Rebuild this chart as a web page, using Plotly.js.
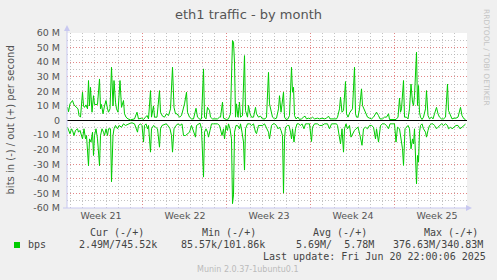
<!DOCTYPE html>
<html><head><meta charset="utf-8">
<script src="https://cdn.plot.ly/plotly-3.0.1.min.js"></script>
<style>html,body{margin:0;padding:0;background:#f0f0f0;overflow:hidden}#chart{width:497px;height:280px}</style>
</head><body><div id="chart"></div>
<script>
// Hours since graph start (33-day window ending Fri Jun 20 2025 22:00)
const outHours = [1,3,6,11,14,18,22,24,27,31,33,35,38,41,43,45,47,50,53,55,57,61,65,67,69,72,75,78,81,83,86,89,92,94,97,99,102,106,109,113,115,118,122,127,130,135,140,143,149,153,157,160,163,167,169,173,175,180,185,187,191,195,199,203,207,211,214,217,220,225,229,233,235,239,241,245,249,253,258,261,266,269,273,275,278,281,285,287,291,296,301,305,307,311,313,316,319,323,327,331,333,335,337,339,342,345,347,351,355,357,361,363,366,369,373,377,379,383,387,391,396,399,403,405,408,411,415,419,423,425,428,431,433,435,438,442,445,449,451,453,455,458,462,465,469,473,476,479,483,487,491,495,501,505,510,515,519,523,526,532,539,541,545,547,550,553,557,559,562,566,569,571,575,577,579,582,585,589,591,595,598,601,605,609,613,617,619,623,626,631,635,639,643,645,649,653,658,662,665,667,669,673,675,679,682,685,688,691,693,695,699,701,703,705,707,710,713,717,719,722,725,729,732,735,739,742,745,749,753,757,761,763,767,770,774,778,782,787,790,794,797];
// outbound traffic, Mbit/s
const outMbps = [9.1,6,11.4,13.7,10.7,9,8,3.4,2.3,19.4,10,9,10.7,8,27.4,10,22.8,5.7,17,11,11,11,28.5,8,11,4.6,10,13.7,8,5.7,8,36.5,10,27.4,12.6,8,5.7,27.4,9,13.7,4.6,2.3,1.1,0.5,0.7,1.1,5.7,1.1,1.6,0.7,2.3,3.4,1.1,20.5,2.3,10,2.3,2.3,20.5,5.7,3,2.3,4.6,3.4,8,36.5,9,4.6,4.6,2.3,3.4,8,11.4,19.4,5.7,2.3,1.1,1.1,8.4,2.3,0.8,1.1,35.4,2.3,1.1,9,6.8,2.3,1.1,1.1,1.1,2.3,2.3,12.6,1.6,1.1,0.7,1.1,4.6,54.8,53.7,40,2.3,11.4,2.3,12.6,2.3,3.4,44.5,6.8,2.3,10.3,4.6,2.3,2.3,9,4.6,2.3,3,1.1,1.1,2.3,33,11.4,6.8,2.3,1.1,1.6,8,17,5.7,14.8,19.4,2.3,0.7,1.1,3.4,36.5,19.4,22.8,3.4,1.1,2.3,0.7,1.1,2.3,3,1.1,1.6,1.1,2.3,1.1,1.6,1.1,1.6,1.1,1.6,3,1.1,1.1,1.1,2.3,8,16,5.7,6.8,26.7,4.6,2.3,5.7,6.8,8,36.5,4.6,2.3,2.3,8,21.7,10.3,6.8,4.6,2.3,1.6,1.1,2.3,4.6,5.7,3.4,1.1,1.1,2.3,2.3,4.6,0.7,0.7,0.7,0.7,2.3,15.3,5.7,8,27.4,2.3,2.3,1.1,8,25,12.6,10.3,17,46.8,10.3,24,5.7,2.3,0.7,2.3,8,20.5,3.4,1.1,2.3,1.1,4.6,9,4.6,2.3,1.1,1.1,2.3,25,6.8,3.4,1.1,1.6,1.6,2.3,9,3.4,1.1,0.75];
const inHours = [1,3,6,9,11,14,17,21,23,26,29,31,34,37,39,43,45,48,51,53,55,58,61,65,67,70,73,75,78,81,83,87,89,92,94,97,101,104,109,113,117,122,127,130,135,141,143,147,150,153,155,158,161,163,167,169,173,177,181,185,187,190,194,198,202,206,209,211,214,218,222,226,230,233,237,241,245,249,253,257,259,263,266,269,273,275,278,281,283,286,289,293,297,301,305,307,310,313,315,318,321,323,326,329,331,333,335,338,341,345,347,350,353,355,357,361,365,369,373,377,379,383,387,391,395,399,403,405,409,412,415,419,422,425,428,431,433,435,437,441,444,447,449,451,454,457,460,463,467,470,474,477,481,485,489,491,495,501,505,510,515,521,525,529,534,539,541,545,547,550,553,555,558,561,565,568,571,575,578,582,586,590,593,597,601,605,609,613,617,619,623,627,631,635,639,643,646,650,655,658,661,665,668,671,673,676,679,682,685,688,691,693,695,699,701,703,705,707,710,713,717,719,722,725,729,732,735,739,742,745,749,753,757,761,763,767,770,774,778,782,786,790,794,797];
// inbound traffic, Mbit/s (drawn below zero)
const inMbps = [4.6,6.8,9.1,5.7,6.8,10.3,6.8,5.7,8,6.8,10.3,12.6,5.7,12.6,10.3,31,12.6,14.8,8,24,10.3,5.7,12.6,31,10.3,5.7,8,10.3,5.7,10.3,5.7,5.7,42,10.3,5.7,3.4,5.7,3.4,4.6,2.3,3.4,2.3,1.8,1.6,2.3,8,3.4,2.3,3.4,14.8,3.4,2.3,5.7,3.4,21.7,5.7,3.4,4.6,5.7,18.3,5.7,3.4,3,2.3,3.4,5.7,10.3,21.7,5.7,3.4,2.3,3.4,2.3,10.3,10.3,9,8,3.4,6.8,11.4,3.4,2.3,1.8,5.7,38.8,8,5.7,8,11.4,6.8,2.3,2.3,2.3,2.3,3.4,5.7,10.3,5.7,12.6,3.4,6.8,2.3,5.7,12.6,57,51,8,3.4,3.4,5.7,2.3,8,14.8,34,5.7,2.3,2.3,3.4,2.3,8,9,3.4,3.4,3.4,2.3,5.7,8,12.6,3.4,2.3,2.3,3.4,5.7,4.6,6.8,10.3,49.8,12.6,4.6,3.4,3.4,8,12.6,5.7,14.8,5.7,2.3,2.3,3.4,2.3,5.7,2.3,2.3,2.3,14.4,4.6,2.3,2.3,3.4,3.4,2.3,2.3,5.7,2.3,2.3,2.3,3.4,10.3,16,5.7,21.7,5.7,2.3,5.7,3.4,11.4,9,6.8,5.7,4.6,10.3,17,5.7,4.6,5.7,3.4,3.4,4.6,12.6,5.7,14.8,3.4,2.3,2.3,3.4,5.7,2.3,2.3,2.3,14.8,4.6,5.7,14.8,19.4,30.8,5.7,4.6,3.4,5.7,19.4,12.6,16,5.7,43.4,24,28.5,8,3.4,2.3,5.7,8,11.4,6.8,3.4,2.3,2.3,3.4,5.7,4.6,3.4,2.3,3.4,2.3,3.4,5.7,4.6,5.7,4.6,3.4,3.4,5.7,4.6,3.4,2.49];

const yTickVals = [-60,-50,-40,-30,-20,-10,0,10,20,30,40,50,60];
const yTickText = ['-60 M','-50 M','-40 M','-30 M','-20 M','-10 M','0','10 M','20 M','30 M','40 M','50 M','60 M'];
const weekLabels = ['Week 21','Week 22','Week 23','Week 24','Week 25'];
const weekLabelHours = [68,236,404,572,740];
const weekStartHours = [151,319,487,655];

const legendHeaders = ['Cur (-/+)','Min (-/+)','Avg (-/+)','Max (-/+)'];
const legendValues = ['2.49M/745.52k','85.57k/101.86k','5.69M/  5.78M','376.63M/340.83M'];

const GREEN = '#00cc00';
const nb = s => s.replace(/ /g, '\u00a0');
const px = x => (x - 67) / 400;
const py = y => (208 - y) / 175;

const traces = [
  {x: outHours, y: outMbps, type: 'scatter', mode: 'lines', line: {color: GREEN, width: 1}, hoverinfo: 'skip'},
  {x: inHours, y: inMbps.map(v => -v), type: 'scatter', mode: 'lines', line: {color: GREEN, width: 1}, hoverinfo: 'skip'},
  {x: [0], y: [0], xaxis: 'x2', type: 'scatter', mode: 'markers', marker: {opacity: 0}, hoverinfo: 'skip'}
];

const minorGrid = 'rgba(175,175,175,0.75)';
const majorGrid = 'rgba(240,110,110,0.7)';
const tickFont = {family: 'DejaVu Sans', size: 9.5, color: '#555'};
const mono = {family: 'DejaVu Sans Mono', size: 10, color: '#444'};
const axisCol = 'rgb(200,200,240)';

const ann = [];
ann.push({text: 'bits in (-) / out (+) per second', x: px(10), y: py(120.5), xref: 'paper', yref: 'paper', textangle: -90, showarrow: false, xanchor: 'center', yanchor: 'middle', font: {family: 'DejaVu Sans', size: 10, color: '#555'}});
ann.push({text: 'RRDTOOL / TOBI OETIKER', x: px(487), y: py(57), xref: 'paper', yref: 'paper', textangle: 90, showarrow: false, xanchor: 'center', yanchor: 'middle', font: {family: 'DejaVu Sans', size: 7.5, color: '#c4c4c4'}});
const headerX = [89, 201, 312, 423];
const valueX = [78, 180, 295, 392];
legendHeaders.forEach((h, i) => ann.push({text: nb(h), x: px(headerX[i]), y: py(232.3), xref: 'paper', yref: 'paper', showarrow: false, xanchor: 'left', yanchor: 'middle', font: mono, borderpad: 0}));
legendValues.forEach((v, i) => ann.push({text: nb(v), x: px(valueX[i]), y: py(244.7), xref: 'paper', yref: 'paper', showarrow: false, xanchor: 'left', yanchor: 'middle', font: mono, borderpad: 0}));
ann.push({text: 'bps', x: px(27), y: py(244.7), xref: 'paper', yref: 'paper', showarrow: false, xanchor: 'left', yanchor: 'middle', font: mono, borderpad: 0});
ann.push({text: nb('Last update: Fri Jun 20 22:00:06 2025'), x: px(262), y: py(256.7), xref: 'paper', yref: 'paper', showarrow: false, xanchor: 'left', yanchor: 'middle', font: mono, borderpad: 0});
ann.push({text: 'Munin 2.0.37-1ubuntu0.1', x: px(248), y: py(269), xref: 'paper', yref: 'paper', showarrow: false, xanchor: 'center', yanchor: 'middle', font: {family: 'DejaVu Sans', size: 8, color: '#bbbbbb'}, borderpad: 0});

const shapes = [
  {type: 'line', xref: 'paper', yref: 'paper', x0: 0, x1: 0, y0: 0, y1: py(28), line: {color: axisCol, width: 1}},
  {type: 'path', xref: 'paper', yref: 'paper', path: `M ${px(64)} ${py(31)} L ${px(70)} ${py(31)} L ${px(67)} ${py(25)} Z`, fillcolor: axisCol, line: {width: 0}},
  {type: 'line', xref: 'paper', yref: 'paper', x0: px(63), x1: px(469), y0: 0, y1: 0, line: {color: axisCol, width: 1}},
  {type: 'path', xref: 'paper', yref: 'paper', path: `M ${px(466)} ${py(205)} L ${px(466)} ${py(211)} L ${px(472)} ${py(208)} Z`, fillcolor: axisCol, line: {width: 0}},
  {type: 'rect', xref: 'paper', yref: 'paper', x0: px(14), x1: px(20), y0: py(248), y1: py(242), fillcolor: GREEN, line: {width: 0}}
];

const layout = {
  width: 497, height: 280,
  margin: {l: 67, r: 30, t: 33, b: 72, pad: 0},
  paper_bgcolor: '#f0f0f0', plot_bgcolor: '#ffffff',
  showlegend: false,
  title: {text: 'eth1 traffic - by month', font: {family: 'DejaVu Sans', size: 13, color: '#555'}, x: 0.5, xref: 'container', xanchor: 'center', y: 1 - 14 / 280, yref: 'container', yanchor: 'middle'},
  xaxis: {range: [0, 800], tickmode: 'array', tickvals: weekLabelHours, ticktext: weekLabels, showgrid: false, zeroline: false, showline: false, ticks: '', tickfont: tickFont, fixedrange: true,
    minor: {tickmode: 'linear', tick0: 7, dtick: 24, showgrid: true, gridcolor: minorGrid, griddash: '1px,2px', gridwidth: 1, ticks: ''}},
  xaxis2: {overlaying: 'x', range: [0, 800], tickmode: 'array', tickvals: weekStartHours, showticklabels: false, showgrid: true, gridcolor: majorGrid, griddash: '1px,2px', gridwidth: 1, zeroline: false, showline: false, ticks: '', fixedrange: true},
  yaxis: {range: [-60, 60], tickmode: 'array', tickvals: yTickVals, ticktext: yTickText, showgrid: true, gridcolor: majorGrid, griddash: '1px,2px', gridwidth: 1,
    zeroline: true, zerolinecolor: '#000000', zerolinewidth: 1, showline: false, ticks: '', ticklabelstandoff: 6, tickfont: tickFont, fixedrange: true,
    minor: {tickmode: 'linear', tick0: 0, dtick: 5, showgrid: true, gridcolor: minorGrid, griddash: '1px,2px', gridwidth: 1, ticks: ''}},
  annotations: ann,
  shapes: shapes
};

Plotly.newPlot('chart', traces, layout, {staticPlot: true, displayModeBar: false});
</script>
</body></html>
